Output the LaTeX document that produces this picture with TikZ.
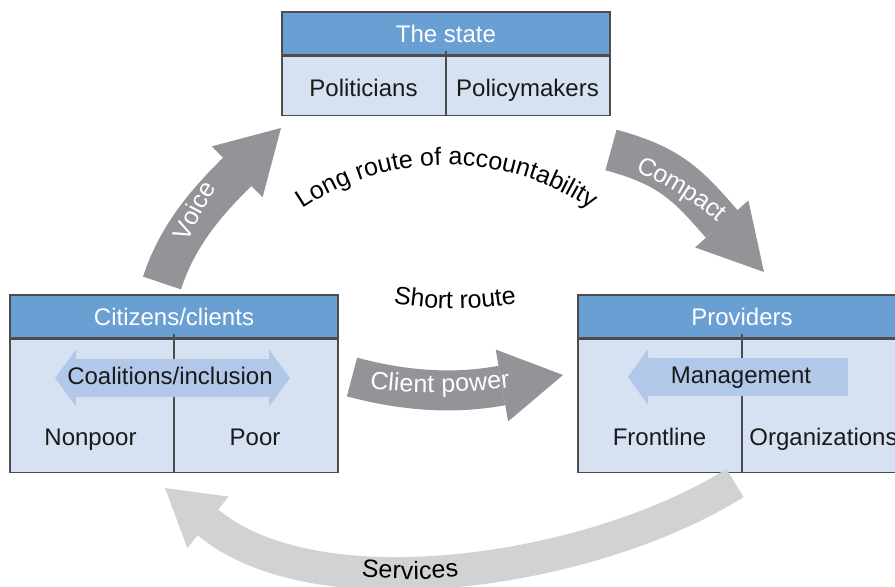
\documentclass[tikz,border=0pt]{standalone}
\usepackage{fontspec}
\setmainfont{Liberation Sans}
\usetikzlibrary{arrows.meta,positioning,decorations.text}
\definecolor{accHead}{HTML}{6A9FD4}
\definecolor{accBody}{HTML}{D6E2F2}
\definecolor{accBand}{HTML}{B1C8E8}
\definecolor{accLine}{HTML}{4D4D4F}
\definecolor{accGray}{HTML}{929497}
\definecolor{accPale}{HTML}{D1D2D4}
\definecolor{accInk}{HTML}{1A1A1A}
\newcommand\boxfont{\fontsize{12}{14}\selectfont}
\newcommand\routefont{\fontsize{12.5}{15}\selectfont}
\tikzset{
  every picture/.style={text=accInk},
  acc head/.style={draw=accLine, line width=0.7pt, fill=accHead, text=white,
    font=\boxfont, minimum width=164pt, minimum height=21.5pt, inner sep=0pt,
    text height=8.6pt, text depth=0pt},
  acc body/.style={draw=accLine, line width=0.7pt, fill=accBody,
    minimum width=164pt, inner sep=0pt},
  acc split/.style={draw=accLine, line width=0.7pt},
  acc label/.style={font=\boxfont, anchor=base},
  acc band/.style={draw=accBand, line width=19pt, line cap=butt},
  acc route/.style={draw=accGray, line cap=butt},
  acc return/.style={draw=accPale, line cap=butt},
  acc curve/.style={decorate, decoration={text along path, text align=center}}
}

\begin{document}
\begin{tikzpicture}[x=0.5pt,y=0.5pt]
  \useasboundingbox (0,0) rectangle (895,586);

  % the state
  \node[acc head] (state) at (446,552.5) {The state};
  \node[acc body, minimum height=29.5pt, below=0pt of state] (statebody) {};
  \draw[acc split] ([yshift=2.5pt]state.south) -- (statebody.south);
  \node[acc label] (politicians) at (363.5,490) {Politicians};
  \node[acc label] (policymakers) at (527.5,490) {Policymakers};

  % citizens
  \node[acc head] (citizens) at (174,269.5) {Citizens/clients};
  \node[acc body, minimum height=66.5pt, below=0pt of citizens] (citbody) {};
  \draw[acc split] ([yshift=2.5pt]citizens.south) -- (citbody.south);
  \draw[acc band, {Triangle[length=10.5pt,width=28.5pt,line width=0pt]}-{Triangle[length=10.5pt,width=28.5pt,line width=0pt]}]
    (55,208) -- (290,208);
  \node[acc label] (coalitions) at (170,202) {Coalitions/inclusion};
  \node[acc label] (nonpoor) at (90.5,141) {Nonpoor};
  \node[acc label] (poor) at (255,141) {Poor};

  % providers
  \node[acc head] (providers) at (742,269.5) {Providers};
  \node[acc body, minimum height=66.5pt, below=0pt of providers] (provbody) {};
  \draw[acc split] ([yshift=2.5pt]providers.south) -- (provbody.south);
  \draw[acc band, -{Triangle[length=10pt,width=28pt,line width=0pt]}]
    (848,209) -- (628,209);
  \node[acc label] (management) at (741,203) {Management};
  \node[acc label] (frontline) at (659.5,141) {Frontline};
  \node[acc label] (organizations) at (823.5,141) {Organizations};

  % routes of accountability: tail, head base, tip
  \coordinate (voice-s) at (162,303);
  \coordinate (voice-b) at (235,412);
  \coordinate (voice-e) at (281,458);
  \coordinate (compact-s) at (611,436);
  \coordinate (compact-b) at (720,364);
  \coordinate (compact-e) at (764,314);
  \coordinate (power-s) at (352,209);
  \coordinate (power-b) at (499,200);
  \coordinate (power-e) at (563,211);
  \coordinate (services-s) at (735,103);
  \coordinate (services-b) at (210,62);
  \coordinate (services-e) at (165,98);

  \draw[acc route, line width=20pt, -{Triangle[length=31pt,width=36pt,line width=0pt]}]
    (voice-s) .. controls +(72:50) and +(225:40) .. (voice-b) -- (voice-e);
  \draw[acc route, line width=21pt, -{Triangle[length=32pt,width=35.5pt,line width=0pt]}]
    (compact-s) .. controls +(-15:60) and +(131:50) .. (compact-b) -- (compact-e);
  \draw[acc route, line width=20pt, -{Triangle[length=31pt,width=36.5pt,line width=0pt]}]
    (power-s) .. controls +(-15:50) and +(190:50) .. (power-b) -- (power-e);
  \draw[acc return, line width=16.5pt, -{Triangle[length=27.5pt,width=33pt,line width=0pt]}]
    (services-s) .. controls +(212:170) and +(-39:140) .. (services-b) -- (services-e);

  % texts along the routes
  \path[acc curve, decoration={raise=-4.5pt, text={|\routefont\color{white}|Voice}}]
    (165,318) .. controls +(66:35) and +(228:30) .. (228,430);
  \path[acc curve, decoration={raise=-4.5pt, text={|\routefont\color{white}|Compact}}]
    (615,432) .. controls +(-18:45) and +(130:45) .. (742,352);
  \path[acc curve, decoration={raise=-4.5pt, text={|\routefont\color{white}|Client power}}]
    (345,212) .. controls +(-14:60) and +(190:60) .. (535,212);
  \path[acc curve, decoration={raise=-4.5pt, text={|\routefont|Services}}]
    (320,25) to[bend right=10] (500,25);
  \path[acc curve, decoration={text={|\routefont|Long route of accountability}}]
    (447,163) ++(125:258) arc[start angle=125, end angle=55, radius=258];
  \path[acc curve, decoration={text={|\routefont|Short route}}]
    (380,285) to[bend right=10] (530,285);
\end{tikzpicture}
\end{document}
